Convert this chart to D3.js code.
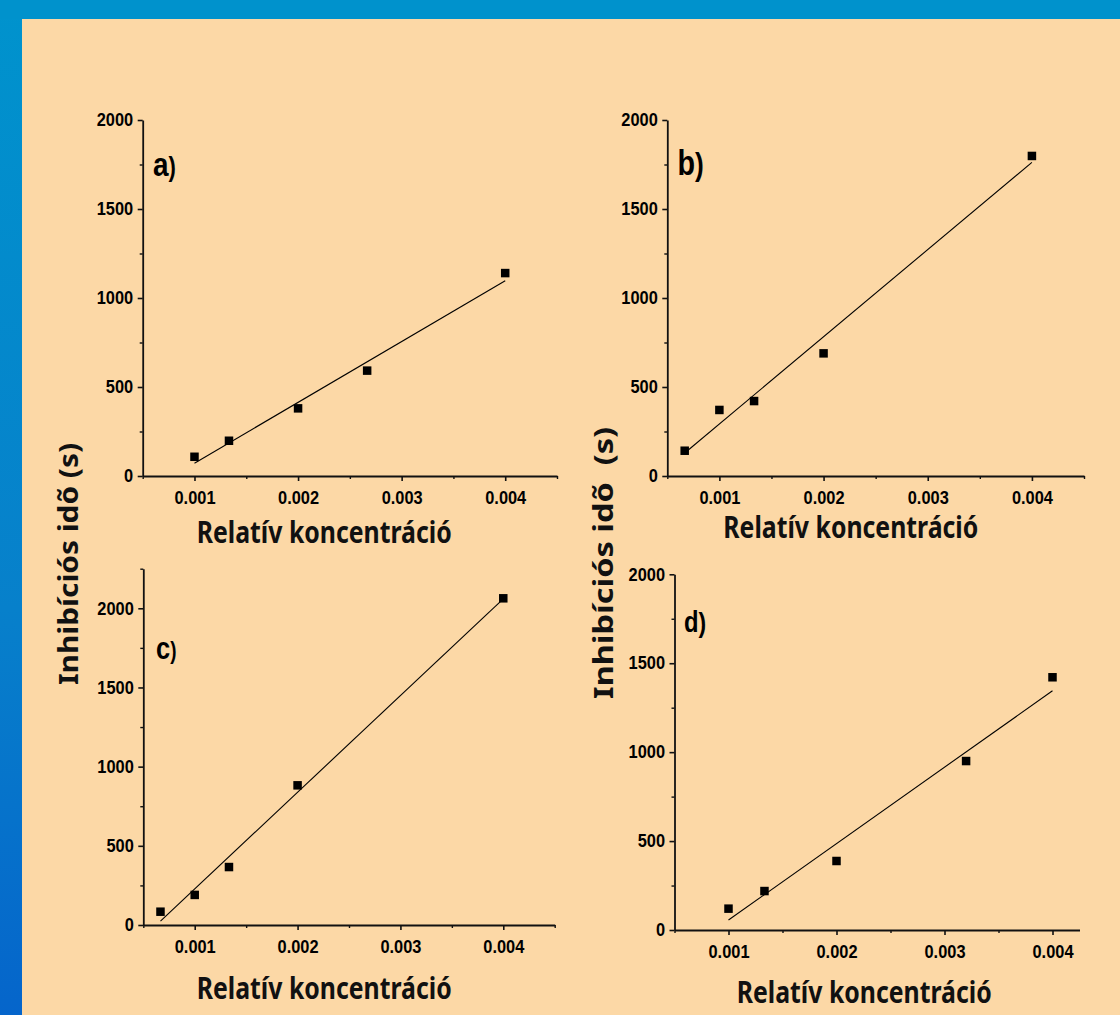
<!DOCTYPE html>
<html>
<head>
<meta charset="utf-8">
<script src="https://cdn.jsdelivr.net/npm/d3@7"></script>
<style>
  html, body { margin: 0; padding: 0; background: #0092cc; }
  svg { display: block; }
</style>
</head>
<body>
<script>
// ---- Data ----
const xTickValues = [0.001, 0.002, 0.003, 0.004];
const xMinorValues = [0.0005, 0.0015, 0.0025, 0.0035, 0.0045];
const yTickValues = [0, 500, 1000, 1500, 2000];
const yMinorValues = [250, 750, 1250, 1750, 2250];

const panelLabels = ["a", "b", "c", "d"];

const xA = [0.001, 0.001333, 0.002, 0.002667, 0.004];
const yA = [108, 198, 380, 592, 1140];
const fitXA = [0.001, 0.004];
const fitYA = [72, 1097];

const xB = [0.000667, 0.001, 0.001333, 0.002, 0.004];
const yB = [142, 371, 421, 689, 1798];
const fitXB = [0.000667, 0.004];
const fitYB = [129, 1762];

const xC = [0.000667, 0.001, 0.001333, 0.002, 0.004];
const yC = [84, 190, 366, 882, 2063];
const fitXC = [0.000667, 0.004];
const fitYC = [24, 2060];

const xD = [0.001, 0.001333, 0.002, 0.0032, 0.004];
const yD = [120, 219, 388, 950, 1421];
const fitXD = [0.001, 0.004];
const fitYD = [56, 1345];

const xTitle = "Relatív koncentráció";
const yTitleLeft = "Inhibíciós idõ (s)";
const yTitleRight = "Inhibíciós idõ  (s)";

// ---- Layout ----
const W = 1120, H = 1015;
const panels = [
  { key: "a", xs: xA, ys: yA, fx: fitXA, fy: fitYA,
    xDom: [0.0005, 0.0045], xR: [142.7, 557], yDom: [0, 2000], yR: [476, 120],
    lab: { x: 153, y: 176, fs1: 34, fs2: 27 },
    title: { x: 196.7, y: 543.3 } },
  { key: "b", xs: xB, ys: yB, fx: fitXB, fy: fitYB,
    xDom: [0.0005, 0.0045], xR: [667.3, 1084], yDom: [0, 2000], yR: [476, 120],
    lab: { x: 677.5, y: 175, fs1: 35, fs2: 32 },
    title: { x: 723.3, y: 538.3 } },
  { key: "c", xs: xC, ys: yC, fx: fitXC, fy: fitYC,
    xDom: [0.0005, 0.0045], xR: [143.3, 554.7], yDom: [0, 2250], yR: [925, 568.7],
    lab: { x: 156, y: 659.3, fs1: 31, fs2: 23 },
    title: { x: 196.7, y: 999 } },
  { key: "d", xs: xD, ys: yD, fx: fitXD, fy: fitYD,
    xDom: [0.0005, 0.00425], xR: [674.5, 1079.5], yDom: [0, 2000], yR: [930, 574.3],
    lab: { x: 684, y: 631.7, fs1: 29, fs2: 28 },
    title: { x: 736.7, y: 1003.3 } }
];

const svg = d3.select("body").append("svg")
  .attr("width", W).attr("height", H);

const defs = svg.append("defs");
const grad = defs.append("linearGradient").attr("id", "bg")
  .attr("x1", 0).attr("y1", 0).attr("x2", 0).attr("y2", 1);
grad.append("stop").attr("offset", "0").attr("stop-color", "#0093cd");
grad.append("stop").attr("offset", "0.6").attr("stop-color", "#0780cb");
grad.append("stop").attr("offset", "1").attr("stop-color", "#0565cb");

svg.append("rect").attr("width", W).attr("height", H).attr("fill", "url(#bg)");
svg.append("rect").attr("width", W).attr("height", 19).attr("fill", "#0092cc");
svg.append("rect").attr("x", 22).attr("y", 19).attr("width", W - 22).attr("height", H - 19)
  .attr("fill", "#fcd8a6");

const tickFont = "'Liberation Sans', Arial, sans-serif";
const titleFont = "'Noto Sans', 'Open Sans', sans-serif";

panels.forEach(p => {
  const g = svg.append("g");
  const x = d3.scaleLinear().domain(p.xDom).range(p.xR);
  const y = d3.scaleLinear().domain(p.yDom).range(p.yR);
  const x0 = p.xR[0], y0 = p.yR[0];

  // minor ticks
  g.append("g").attr("transform", `translate(0,${y0})`)
    .call(d3.axisBottom(x).tickValues(xMinorValues.filter(v => v >= p.xDom[0] - 1e-9 && v <= p.xDom[1] + 1e-9))
      .tickSize(3).tickFormat(""))
    .call(s => s.select(".domain").remove())
    .call(s => s.selectAll("line").attr("stroke", "#111").attr("stroke-width", 1.4));
  g.append("g").attr("transform", `translate(${x0},0)`)
    .call(d3.axisLeft(y).tickValues(yMinorValues.filter(v => v <= p.yDom[1]))
      .tickSize(3).tickFormat(""))
    .call(s => s.select(".domain").remove())
    .call(s => s.selectAll("line").attr("stroke", "#111").attr("stroke-width", 1.4));

  // major axes
  const xAxis = g.append("g").attr("transform", `translate(0,${y0})`)
    .call(d3.axisBottom(x).tickValues(xTickValues).tickSize(5).tickSizeOuter(0)
      .tickPadding(10.5).tickFormat(d3.format(".3f")));
  const yAxis = g.append("g").attr("transform", `translate(${x0},0)`)
    .call(d3.axisLeft(y).tickValues(yTickValues).tickSize(5).tickSizeOuter(0)
      .tickPadding(4.5).tickFormat(d3.format("d")));
  [xAxis, yAxis].forEach(a => {
    a.select(".domain").attr("stroke", "#111").attr("stroke-width", 1.8);
    a.selectAll(".tick line").attr("stroke", "#111").attr("stroke-width", 1.6);
    a.selectAll("text").attr("fill", "#000")
      .style("font-family", tickFont).style("font-weight", "bold").style("font-size", "18px")
      .each(function () {
        const L = this.getComputedTextLength();
        d3.select(this).attr("textLength", L * 0.91).attr("lengthAdjust", "spacingAndGlyphs");
      });
  });

  // fit line
  const fitPts = p.fx.map((v, i) => [v, p.fy[i]]);
  g.append("path")
    .attr("d", d3.line().x(d => x(d[0])).y(d => y(d[1]))(fitPts))
    .attr("fill", "none").attr("stroke", "#000").attr("stroke-width", 1.1);

  // points
  const sz = 8.5;
  g.selectAll("rect.pt").data(p.xs.map((v, i) => [v, p.ys[i]])).enter()
    .append("rect").attr("class", "pt")
    .attr("x", d => x(d[0]) - sz / 2).attr("y", d => y(d[1]) - sz / 2)
    .attr("width", sz).attr("height", sz).attr("fill", "#000");

  // panel label
  const lt = g.append("text")
    .attr("transform", `translate(${p.lab.x},${p.lab.y}) scale(0.82,1)`)
    .style("font-family", tickFont).style("font-weight", "bold").attr("fill", "#000");
  lt.append("tspan").style("font-size", p.lab.fs1 + "px").text(p.key);
  lt.append("tspan").style("font-size", p.lab.fs2 + "px").text(")");

  // x title
  g.append("text")
    .attr("x", p.title.x).attr("y", p.title.y)
    .attr("textLength", 255).attr("lengthAdjust", "spacingAndGlyphs")
    .style("font-family", titleFont).style("font-weight", "bold").style("font-size", "30px")
    .attr("fill", "#111").text(xTitle);
});

// y titles
svg.append("text")
  .attr("transform", "translate(78,685) rotate(-90)")
  .attr("textLength", 242).attr("lengthAdjust", "spacingAndGlyphs")
  .style("font-family", titleFont).style("font-weight", "bold").style("font-size", "26px")
  .attr("fill", "#111").text(yTitleLeft);
svg.append("text")
  .attr("transform", "translate(613,699) rotate(-90)")
  .attr("textLength", 272).attr("lengthAdjust", "spacingAndGlyphs")
  .style("white-space", "pre")
  .style("font-family", titleFont).style("font-weight", "bold").style("font-size", "26px")
  .attr("fill", "#111").text(yTitleRight);
</script>
</body>
</html>
